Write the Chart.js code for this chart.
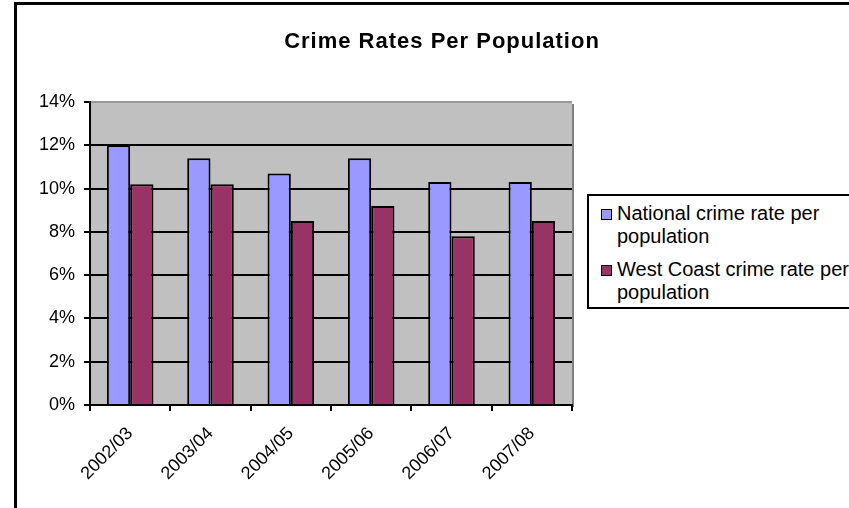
<!DOCTYPE html>
<html>
<head>
<meta charset="utf-8">
<script src="https://cdn.jsdelivr.net/npm/chart.js@4"></script>
<style>
    body { margin: 0; background: #fff; font-family: "Liberation Sans", Arial, sans-serif; }
    #wrap { position: relative; width: 849px; height: 508px; overflow: hidden; }
    #frame { position: absolute; left: 14px; top: 2px; width: 900px; height: 600px;
             border-left: 3px solid #000; border-top: 3px solid #000; }
    #title { position: absolute; left: 242px; width: 400px; top: 28px; text-align: center;
             font-weight: bold; font-size: 22px; letter-spacing: 1px; color: #000; }
    #chart { position: absolute; left: 0; top: 0; }
    #legend { position: absolute; left: 587px; top: 194px; width: 300px; height: 111px;
              border: 2px solid #000; background: #fff; font-size: 20px; color: #000; }
    .item { position: absolute; left: 28px; line-height: 23px; }
    .box { position: absolute; left: -16px; top: 7px; width: 9px; height: 9px; border: 1px solid #000; }
</style>
</head>
<body>
<div id="wrap">
    <div id="frame"></div>
    <canvas id="chart" width="849" height="508"></canvas>
    <div id="title">Crime Rates Per Population</div>
    <div id="legend"></div>
</div>
<script>
    const categories = ["2002/03", "2003/04", "2004/05", "2005/06", "2006/07", "2007/08"];
    const nationalRate = [12.0, 11.4, 10.7, 11.4, 10.3, 10.3];
    const westCoastRate = [10.2, 10.2, 8.5, 9.2, 7.8, 8.5];
    const seriesNames = ["National crime rate per population", "West Coast crime rate per population"];
    const seriesColors = ["#9999FF", "#993366"];
    const yTicks = [0, 2, 4, 6, 8, 10, 12, 14];

    // grey plot area
    const plotBg = {
        id: "plotBg",
        beforeDraw(chart) {
            const a = chart.chartArea;
            const ctx = chart.ctx;
            ctx.save();
            ctx.fillStyle = "#C0C0C0";
            ctx.fillRect(a.left, a.top, a.right - a.left, a.bottom - a.top);
            ctx.fillStyle = "#808080";
            ctx.fillRect(a.right, a.top + 2, 2, a.bottom - a.top);
            ctx.restore();
        }
    };

    const chart = new Chart(document.getElementById("chart"), {
        type: "bar",
        data: {
            labels: categories,
            datasets: [
                { label: seriesNames[0], data: nationalRate, backgroundColor: seriesColors[0],
                  borderColor: "#000", borderWidth: 2 },
                { label: seriesNames[1], data: westCoastRate, backgroundColor: seriesColors[1],
                  borderColor: "#000", borderWidth: 2 }
            ]
        },
        options: {
            responsive: false,
            animation: false,
            datasets: { bar: { categoryPercentage: 0.58, barPercentage: 1.0 } },
            layout: { padding: { left: 17, right: 277, top: 102, bottom: 0 } },
            plugins: { legend: { display: false }, title: { display: false }, tooltip: { enabled: false } },
            scales: {
                x: {
                    afterFit: s => { s.height = 103; },
                    border: { color: "#000", width: 2 },
                    grid: { offset: true, drawOnChartArea: false, color: "#000", tickLength: 6, lineWidth: 2 },
                    ticks: {
                        minRotation: 45, maxRotation: 45, color: "#000", padding: 12,
                        font: { family: "Liberation Sans", size: 18 }
                    }
                },
                y: {
                    min: 0, max: 14,
                    afterFit: s => { s.width = 73; },
                    afterBuildTicks: s => { s.ticks = yTicks.map(v => ({ value: v })); },
                    border: { color: "#000", width: 2 },
                    grid: {
                        color: c => c.tick && c.tick.value === 14 ? "#999" : "#000",
                        tickColor: "#000", lineWidth: 2, tickLength: 6
                    },
                    ticks: {
                        color: "#000", padding: 9,
                        font: { family: "Liberation Sans", size: 18 },
                        callback: v => v + "%"
                    }
                }
            }
        },
        plugins: [plotBg]
    });

    // legend with wrapped labels
    const legend = document.getElementById("legend");
    const rows = [["National crime rate per", "population"], ["West Coast crime rate per", "population"]];
    rows.forEach((lines, i) => {
        const item = document.createElement("div");
        item.className = "item";
        item.style.top = (i === 0 ? 6 : 62) + "px";
        item.innerHTML = `<span class="box" style="background:${seriesColors[i]}"></span>${lines.join("<br>")}`;
        legend.appendChild(item);
    });
</script>
</body>
</html>
